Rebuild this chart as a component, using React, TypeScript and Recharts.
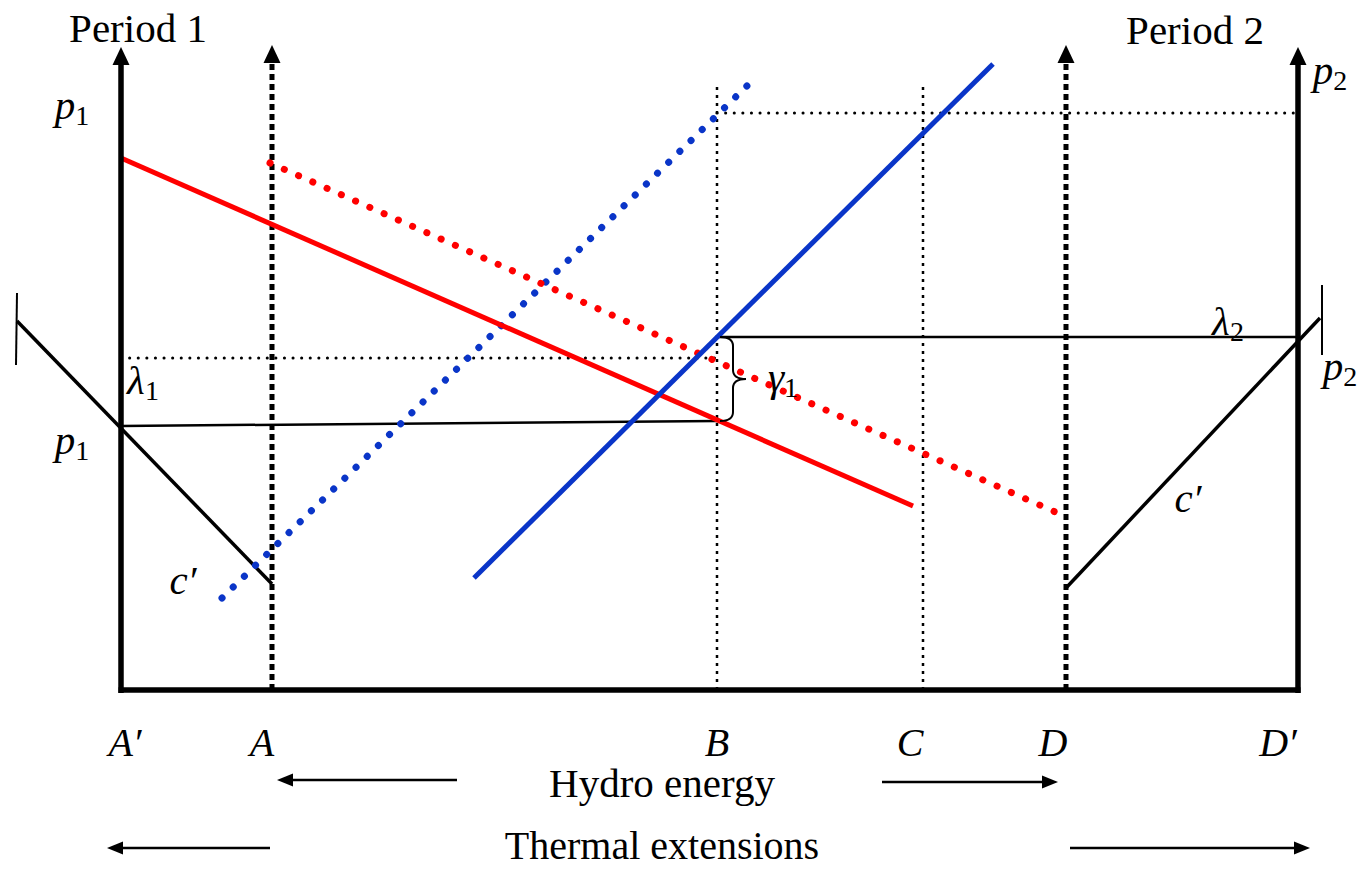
import React from 'react';
import { ComposedChart, Line, XAxis, YAxis, ReferenceLine, ReferenceDot } from 'recharts';

// Quantity on x (A' = 0), price on y (bottom axis = 0)
const xA1 = 0;
const xA = 15.1;
const xB = 59.6;
const xC = 80.2;
const xD = 94.5;
const xD1 = 117.7;

const demandPeriod1 = [{ x: 0, y: 53.2 }, { x: 79.2, y: 18.4 }];
const demandPeriod2 = [{ x: 14.9, y: 52.7 }, { x: 94.1, y: 17.5 }];
const supplyPeriod1 = [{ x: 10.1, y: 9.2 }, { x: 63.2, y: 61 }];
const supplyPeriod2 = [{ x: 35.3, y: 11.2 }, { x: 87.2, y: 62.6 }];
const thermalCost1 = [{ x: -10.4, y: 36.9 }, { x: 15.1, y: 10.6 }];
const thermalCost2 = [{ x: 94.5, y: 10.2 }, { x: 119.9, y: 37.2 }];
const lambda1Line = [{ x: 0, y: 26.4 }, { x: 59.6, y: 26.9 }];
const lambda2Line = [{ x: 59.6, y: 35.3 }, { x: 117.7, y: 35.3 }];

const pTop = 57.7;
const pLevel1 = 33.2;
const axisTop = 64.3;
const guideTops = [60.3, 60.8];

const tickLabels = ['A′', 'A', 'B', 'C', 'D', 'D′'];
const tickLabelX = [0.4, 14.1, 59.6, 78.9, 93.2, 115.7];
const tickLabelY = -5.2;

const mathLabels = [
  { x: -4.9, y: 58.5, main: 'p', sub: '1' },
  { x: -4.9, y: 25, main: 'p', sub: '1' },
  { x: 2.2, y: 31, main: 'λ', sub: '1' },
  { x: 110.7, y: 36.9, main: 'λ', sub: '2' },
  { x: 120.9, y: 62, main: 'p', sub: '2' },
  { x: 121.9, y: 32.4, main: 'p', sub: '2' },
  { x: 66.2, y: 31.3, main: 'γ', sub: '1' },
  { x: 6.2, y: 11, main: 'c′', sub: '' },
  { x: 106.7, y: 19.2, main: 'c′', sub: '' },
];

const titles = [
  { x: 1.7, y: 66.2, text: 'Period 1' },
  { x: 107.4, y: 66, text: 'Period 2' },
  { x: 54.1, y: -9.3, text: 'Hydro energy' },
  { x: 54.1, y: -15.5, text: 'Thermal extensions' },
];

const flowArrows = [
  { from: 33.6, to: 15.6, y: -9 },
  { from: 76.1, to: 93.7, y: -9.2 },
  { from: 14.9, to: -1.4, y: -15.8 },
  { from: 94.9, to: 118.9, y: -15.8 },
];

const RED = '#ff0000';
const BLUE = '#0a35c8';
const FONT = '"Liberation Serif", "Times New Roman", serif';

const arrowShape = (head: number, width: number, sw: number, dash?: string) => (p: any) => {
  const { x1, y1, x2, y2 } = p;
  const dx = x2 - x1;
  const dy = y2 - y1;
  const len = Math.hypot(dx, dy) || 1;
  const ux = dx / len;
  const uy = dy / len;
  const bx = x2 - ux * head;
  const by = y2 - uy * head;
  const nx = -uy * width / 2;
  const ny = ux * width / 2;
  return (
    <g>
      <line x1={x1} y1={y1} x2={bx} y2={by} stroke="#000" strokeWidth={sw} strokeDasharray={dash} />
      <polygon points={`${x2},${y2} ${bx + nx},${by + ny} ${bx - nx},${by - ny}`} fill="#000" />
    </g>
  );
};

const braceShape = (p: any) => {
  const { x1, y1, y2 } = p;
  const top = Math.min(y1, y2);
  const bot = Math.max(y1, y2);
  const mid = (top + bot) / 2;
  const w = 13;
  const r = 9;
  const d = `M${x1},${top} Q${x1 + w},${top} ${x1 + w},${top + r} L${x1 + w},${mid - r} Q${x1 + w},${mid} ${x1 + 2 * w},${mid} Q${x1 + w},${mid} ${x1 + w},${mid + r} L${x1 + w},${bot - r} Q${x1 + w},${bot} ${x1},${bot}`;
  return <path d={d} fill="none" stroke="#000" strokeWidth={2} />;
};

const mathShape = (main: string, sub: string) => (p: any) => (
  <text x={p.cx} y={p.cy} textAnchor="middle" dominantBaseline="central" fontFamily={FONT} fontSize={41} fill="#000">
    <tspan fontStyle="italic">{main}</tspan>
    {sub ? <tspan fontSize={28} dy={10}>{sub}</tspan> : null}
  </text>
);

const textShape = (text: string, italic: boolean, size = 41) => (p: any) => (
  <text x={p.cx} y={p.cy} textAnchor="middle" dominantBaseline="central" fontFamily={FONT} fontSize={size} fontStyle={italic ? 'italic' : 'normal'} fill="#000">
    {text}
  </text>
);

const seg = (a: [number, number], b: [number, number]) => [{ x: a[0], y: a[1] }, { x: b[0], y: b[1] }];

export default function App() {
  return (
    <div style={{ position: 'fixed', left: 0, top: 0, background: '#fff' }}>
      <ComposedChart width={1364} height={869} margin={{ top: 0, right: 0, bottom: 0, left: 0 }}>
        <XAxis type="number" dataKey="x" domain={[-12.1, 124.3]} hide allowDataOverflow />
        <YAxis type="number" dataKey="y" domain={[-17.9, 69]} hide allowDataOverflow />

        {/* thin dotted guides */}
        <ReferenceLine segment={seg([xB, 0], [xB, guideTops[0]])} stroke="#000" strokeWidth={2.5} strokeDasharray="3 5" />
        <ReferenceLine segment={seg([xC, 0], [xC, guideTops[1]])} stroke="#000" strokeWidth={2.5} strokeDasharray="3 5" />
        <ReferenceLine segment={seg([xB, pTop], [xD1, pTop])} stroke="#000" strokeWidth={3} strokeDasharray="0.1 8.5" strokeLinecap="round" />
        <ReferenceLine segment={seg([xA1, pLevel1], [xB, pLevel1])} stroke="#000" strokeWidth={3} strokeDasharray="0.1 8.5" strokeLinecap="round" />

        {/* bold dashed verticals at A and D */}
        <ReferenceLine segment={seg([xA, 0], [xA, 64.5])} shape={arrowShape(18, 17, 5, '6 4')} />
        <ReferenceLine segment={seg([xD, 0], [xD, 64.5])} shape={arrowShape(18, 17, 5, '6 4')} />

        {/* thermal extension ticks */}
        <ReferenceLine segment={seg([-10.4, 39.7], [-10.5, 32.5])} stroke="#000" strokeWidth={2} />
        <ReferenceLine segment={seg([120.1, 40.5], [120.1, 33.5])} stroke="#000" strokeWidth={2} />

        <Line data={thermalCost1} dataKey="y" stroke="#000" strokeWidth={3.5} dot={false} activeDot={false} isAnimationActive={false} />
        <Line data={thermalCost2} dataKey="y" stroke="#000" strokeWidth={3.5} dot={false} activeDot={false} isAnimationActive={false} />
        <Line data={lambda1Line} dataKey="y" stroke="#000" strokeWidth={2.5} dot={false} activeDot={false} isAnimationActive={false} />
        <Line data={lambda2Line} dataKey="y" stroke="#000" strokeWidth={2.5} dot={false} activeDot={false} isAnimationActive={false} />

        <Line data={supplyPeriod1} dataKey="y" stroke={BLUE} strokeWidth={7} strokeDasharray="0.1 15.5" strokeLinecap="round" dot={false} activeDot={false} isAnimationActive={false} />
        <Line data={demandPeriod2} dataKey="y" stroke={RED} strokeWidth={7} strokeDasharray="0.1 15.5" strokeLinecap="round" dot={false} activeDot={false} isAnimationActive={false} />
        <Line data={demandPeriod1} dataKey="y" stroke={RED} strokeWidth={5} dot={false} activeDot={false} isAnimationActive={false} />
        <Line data={supplyPeriod2} dataKey="y" stroke={BLUE} strokeWidth={5} dot={false} activeDot={false} isAnimationActive={false} />

        <ReferenceLine segment={seg([59.9, 35.3], [59.9, 26.9])} shape={braceShape} />

        {/* axes */}
        <ReferenceLine segment={seg([xA1, -0.3], [xA1, axisTop])} shape={arrowShape(18, 17, 5.5)} />
        <ReferenceLine segment={seg([xD1, -0.3], [xD1, axisTop])} shape={arrowShape(18, 17, 5.5)} />
        <ReferenceLine segment={seg([xA1 - 0.25, 0], [xD1 + 0.25, 0])} stroke="#000" strokeWidth={5.5} />

        {flowArrows.map((a, i) => (
          <ReferenceLine key={`fa${i}`} segment={seg([a.from, a.y], [a.to, a.y])} shape={arrowShape(16, 13, 2.5)} />
        ))}

        {tickLabels.map((t, i) => (
          <ReferenceDot key={`tl${i}`} x={tickLabelX[i]} y={tickLabelY} r={0} shape={textShape(t, true, 40)} />
        ))}
        {titles.map((t, i) => (
          <ReferenceDot key={`ti${i}`} x={t.x} y={t.y} r={0} shape={textShape(t.text, false, i === 3 ? 40 : 41)} />
        ))}
        {mathLabels.map((m, i) => (
          <ReferenceDot key={`ml${i}`} x={m.x} y={m.y} r={0} shape={mathShape(m.main, m.sub)} />
        ))}
      </ComposedChart>
    </div>
  );
}
